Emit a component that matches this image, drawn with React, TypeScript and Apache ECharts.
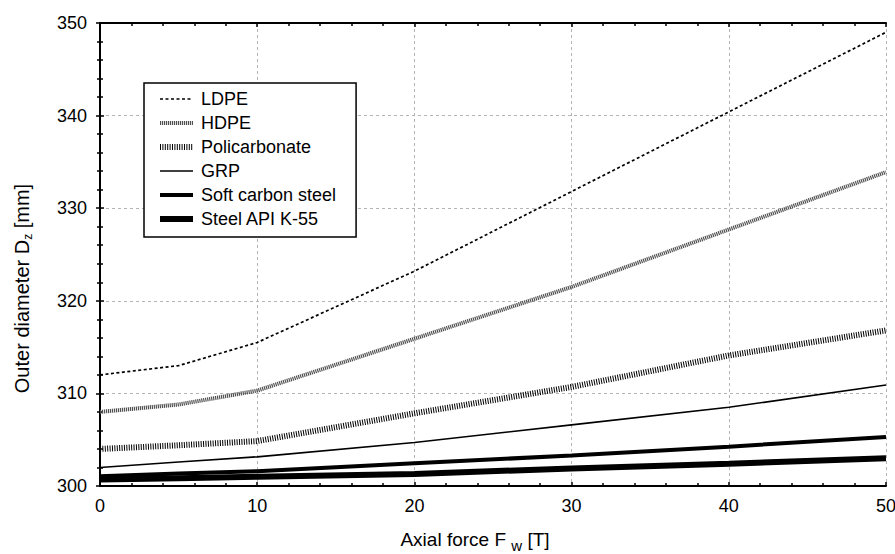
import React, { useEffect, useRef } from "react";
import * as echarts from "echarts";

const forceX = [0, 5, 10, 20, 30, 40, 50];
const ldpe = [312.0, 313.0, 315.5, 323.2, 331.8, 340.4, 349.0];
const hdpe = [308.0, 308.8, 310.3, 315.9, 321.5, 327.7, 333.9];
const policarbonate = [304.0, 304.4, 304.85, 307.85, 310.7, 314.1, 316.8];
const grp = [302.0, 302.6, 303.15, 304.7, 306.6, 308.5, 310.9];
const softSteel = [301.05, 301.35, 301.6, 302.45, 303.3, 304.25, 305.3];
const steelApi = [300.7, 300.85, 301.0, 301.3, 301.9, 302.4, 303.0];

const seriesNames = ["LDPE", "HDPE", "Policarbonate", "GRP", "Soft carbon steel", "Steel API K-55"];
const seriesValues = [ldpe, hdpe, policarbonate, grp, softSteel, steelApi];
const seriesStyles = [
  { color: "#000", width: 1.7, type: [3, 2.5] },
  { color: "#505050", width: 4, type: [1.2, 0.8] },
  { color: "#000", width: 6, type: [1, 1.4] },
  { color: "#000", width: 1.6, type: "solid" },
  { color: "#000", width: 4, type: "solid" },
  { color: "#000", width: 6, type: "solid" },
];

const FONT = "Liberation Sans, Arial, sans-serif";

export default function App() {
  const ref = useRef<HTMLDivElement>(null);
  useEffect(() => {
    if (!ref.current) return;
    const chart = echarts.init(ref.current, null, { renderer: "svg" });
    const tickStyle = { color: "#000", width: 1.5 };
    const mirrorAxis = {
      axisLine: { show: true, lineStyle: { color: "#000", width: 2 } },
      axisTick: { show: true, inside: true, length: 4, lineStyle: tickStyle },
      minorTick: { show: true, splitNumber: 5, length: 3, lineStyle: tickStyle },
      axisLabel: { show: false },
      splitLine: { show: false },
    };
    chart.setOption({
      animation: false,
      backgroundColor: "#fff",
      textStyle: { fontFamily: FONT },
      grid: { left: 100, right: 9, top: 23, bottom: 68, containLabel: false, outerBoundsMode: "none" },
      legend: {
        orient: "vertical",
        left: 144,
        top: 83,
        padding: [6, 20, 8, 13],
        itemWidth: 33,
        itemHeight: 14,
        itemGap: 4,
        backgroundColor: "#fff",
        borderColor: "#000",
        borderWidth: 1.5,
        borderRadius: 0,
        selectedMode: false,
        itemStyle: { opacity: 0 },
        lineStyle: { width: "inherit", type: "inherit", color: "inherit" },
        textStyle: { fontSize: 18, color: "#000", fontFamily: FONT, lineHeight: 20, padding: [0, 0, 0, 3] },
        data: seriesNames,
      },
      xAxis: [
        {
          type: "value",
          min: 0,
          max: 50,
          interval: 10,
          position: "bottom",
          name: "Axial force F {w|w} [T]",
          nameLocation: "middle",
          nameGap: 42,
          nameTextStyle: {
            fontSize: 19,
            color: "#000",
            fontFamily: FONT,
            lineHeight: 22,
            padding: [0, 36, 0, 0],
            rich: { w: { fontSize: 15, lineHeight: 14, padding: [12, 0, 0, 0], color: "#000", fontFamily: FONT } },
          },
          axisLine: { show: true, onZero: false, lineStyle: { color: "#000", width: 2 } },
          axisTick: { show: true, inside: true, length: 4, lineStyle: tickStyle },
          minorTick: { show: true, splitNumber: 5, length: 3, lineStyle: tickStyle },
          axisLabel: { fontSize: 18, color: "#000", fontFamily: FONT, margin: 11 },
          splitLine: { show: true, lineStyle: { color: "#b4b4b4", width: 1, type: [3, 3] } },
        },
        { type: "value", min: 0, max: 50, interval: 10, position: "top", ...mirrorAxis },
      ],
      yAxis: [
        {
          type: "value",
          min: 300,
          max: 350,
          interval: 10,
          position: "left",
          name: "Outer diameter D{z|z} [mm]",
          nameLocation: "middle",
          nameRotate: 90,
          nameGap: 67,
          nameTextStyle: {
            fontSize: 20,
            color: "#000",
            fontFamily: FONT,
            lineHeight: 22,
            padding: [0, 68, 0, 0],
            rich: { z: { fontSize: 12, lineHeight: 14, padding: [12, 0, 0, 0], color: "#000", fontFamily: FONT } },
          },
          axisLine: { show: true, lineStyle: { color: "#000", width: 2 } },
          axisTick: { show: true, inside: true, length: 4, lineStyle: tickStyle },
          minorTick: { show: true, splitNumber: 5, length: 3, lineStyle: tickStyle },
          axisLabel: { fontSize: 18, color: "#000", fontFamily: FONT, margin: 13 },
          splitLine: { show: true, lineStyle: { color: "#b4b4b4", width: 1, type: [3, 3] } },
        },
        { type: "value", min: 300, max: 350, interval: 10, position: "right", ...mirrorAxis },
      ],
      series: seriesNames.map((name, i) => ({
        name,
        type: "line",
        xAxisIndex: 0,
        yAxisIndex: 0,
        symbol: "none",
        showSymbol: false,
        data: forceX.map((x, j) => [x, seriesValues[i][j]]),
        color: seriesStyles[i].color,
        lineStyle: { color: seriesStyles[i].color, width: seriesStyles[i].width, type: seriesStyles[i].type, cap: "butt" },
        emphasis: { disabled: true },
      })),
    });
    return () => chart.dispose();
  }, []);
  return <div ref={ref} style={{ position: "fixed", left: 0, top: 0, width: 895, height: 554 }} />;
}
